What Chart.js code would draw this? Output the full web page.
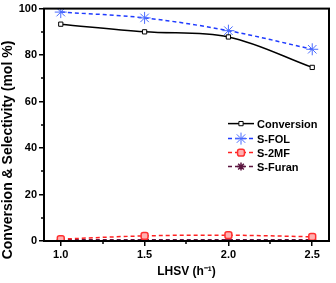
<!DOCTYPE html>
<html>
<head>
<meta charset="utf-8">
<script src="https://cdn.jsdelivr.net/npm/chart.js@4"></script>
<style>
  html, body { margin: 0; padding: 0; background: #fff; }
  #wrap { width: 336px; height: 283px; }
</style>
</head>
<body>
<div id="wrap"><canvas id="chart" width="336" height="283"></canvas></div>
<script>
// LHSV values (h^-1)
const lhsv = [1.0, 1.5, 2.0, 2.5];
const conversion = [93.3, 90.0, 87.8, 74.7];
const sFol = [98.5, 96.0, 90.5, 82.5];
const s2mf = [0.8, 2.2, 2.5, 1.8];
const sFuran = [0.5, 0.5, 0.5, 0.5];
const xTicks = [1.0, 1.5, 2.0, 2.5];
const yTicks = [0, 20, 40, 60, 80, 100];
const xMinor = [1.25, 1.75, 2.25];
const yMinor = [10, 30, 50, 70, 90];

const FONT = 'Liberation Sans, Arial, sans-serif';

const toPts = ys => lhsv.map((x, i) => ({ x: x, y: ys[i] }));

// frame, minor ticks, y title and the legend inside the plot
const extras = {
  id: 'extras',
  afterDraw(chart) {
    const ctx = chart.ctx;
    const a = chart.chartArea;
    const xs = chart.scales.x, ys = chart.scales.y;
    ctx.save();
    ctx.strokeStyle = '#000';
    ctx.lineWidth = 2;
    ctx.strokeRect(a.left, a.top, a.right - a.left, a.bottom - a.top);

    // minor ticks
    ctx.lineWidth = 1.5;
    ctx.beginPath();
    xMinor.forEach(v => {
      const px = Math.round(xs.getPixelForValue(v));
      ctx.moveTo(px, a.bottom);
      ctx.lineTo(px, a.bottom + 3);
    });
    yMinor.forEach(v => {
      const py = Math.round(ys.getPixelForValue(v));
      ctx.moveTo(a.left, py);
      ctx.lineTo(a.left - 3, py);
    });
    ctx.stroke();

    // y title (sits a bit lower than the plot centre in the original)
    ctx.save();
    ctx.translate(8, 150);
    ctx.rotate(-Math.PI / 2);
    ctx.fillStyle = '#000';
    ctx.font = 'bold 14px ' + FONT;
    ctx.textAlign = 'center';
    ctx.textBaseline = 'middle';
    ctx.fillText('Conversion & Selectivity (mol %)', 0, 0);
    ctx.restore();

    // legend
    const lx = a.left + 184, ly0 = a.top + 115;
    const gaps = [0, 15, 29, 43];
    chart.data.datasets.forEach((ds, i) => {
      const y = ly0 + gaps[i];
      ctx.strokeStyle = ds.borderColor;
      ctx.lineWidth = ds.borderWidth;
      ctx.setLineDash(ds.borderDash || []);
      ctx.beginPath();
      ctx.moveTo(lx, y);
      ctx.lineTo(lx + 26, y);
      ctx.stroke();
      ctx.setLineDash([]);
      ctx.fillStyle = ds.pointBackgroundColor;
      ctx.strokeStyle = ds.pointBorderColor;
      ctx.lineWidth = ds.pointBorderWidth;
      Chart.helpers.drawPoint(ctx, {
        pointStyle: ds.pointStyle, radius: ds.pointRadius, borderWidth: ds.pointBorderWidth
      }, lx + 13, y);
      ctx.fillStyle = '#000';
      ctx.font = 'bold 11px ' + FONT;
      ctx.textAlign = 'left';
      ctx.textBaseline = 'middle';
      ctx.fillText(ds.label, lx + 29, y + 1);
    });
    ctx.restore();
  }
};

new Chart(document.getElementById('chart'), {
  type: 'line',
  data: {
    datasets: [
      {
        label: 'Conversion', data: toPts(conversion),
        borderColor: '#000', borderWidth: 1.5,
        pointStyle: 'rect', pointRadius: 3, pointBorderWidth: 1,
        pointBackgroundColor: '#fff', pointBorderColor: '#000',
        tension: 0.35
      },
      {
        label: 'S-FOL', data: toPts(sFol),
        borderColor: '#1f3bff', borderWidth: 1.5, borderDash: [4, 3],
        pointStyle: 'star', pointRadius: 6, pointBorderWidth: 1,
        pointBackgroundColor: '#fff', pointBorderColor: '#4a6cff',
        tension: 0.35
      },
      {
        label: 'S-2MF', data: toPts(s2mf),
        borderColor: '#ff2020', borderWidth: 1.5, borderDash: [4, 3],
        pointStyle: 'rectRounded', pointRadius: 4, pointBorderWidth: 1.5,
        pointBackgroundColor: '#ffb0b0', pointBorderColor: '#ff3030',
        tension: 0.35
      },
      {
        label: 'S-Furan', data: toPts(sFuran),
        borderColor: '#5c1640', borderWidth: 1.5, borderDash: [4, 3],
        pointStyle: 'star', pointRadius: 4, pointBorderWidth: 1.5,
        pointBackgroundColor: '#5c1640', pointBorderColor: '#5c1640',
        tension: 0.35
      }
    ]
  },
  options: {
    responsive: false,
    animation: false,
    layout: { padding: { top: 5, right: 0, left: 0, bottom: 0 } },
    plugins: { legend: { display: false }, tooltip: { enabled: false } },
    scales: {
      x: {
        type: 'linear', min: 0.9, max: 2.6,
        afterBuildTicks: s => { s.ticks = xTicks.map(v => ({ value: v })); },
        afterFit: s => { s.height = 42; },
        ticks: {
          color: '#000', padding: 2,
          font: { family: FONT, size: 11, weight: 'bold' },
          callback: v => v.toFixed(1)
        },
        grid: { drawOnChartArea: false, tickLength: 5, color: '#000', lineWidth: 1.5 },
        border: { color: '#000', width: 2 },
        title: {
          display: true, text: 'LHSV (h\u207B\u00B9)', color: '#000', padding: { top: 6 },
          font: { family: FONT, size: 12, weight: 'bold' }
        }
      },
      y: {
        min: 0, max: 100,
        afterBuildTicks: s => { s.ticks = yTicks.map(v => ({ value: v })); },
        afterFit: s => { s.width = 44; },
        ticks: {
          color: '#000', padding: 2,
          font: { family: FONT, size: 11, weight: 'bold' }
        },
        grid: { drawOnChartArea: false, tickLength: 5, color: '#000', lineWidth: 1.5 },
        border: { color: '#000', width: 2 }
      }
    }
  },
  plugins: [extras]
});
</script>
</body>
</html>
